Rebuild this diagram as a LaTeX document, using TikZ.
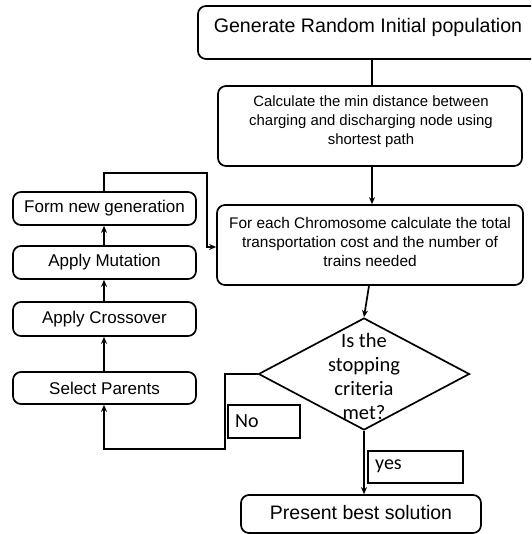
\documentclass[tikz,border=0pt]{standalone}
\usepackage{fontspec}
\setmainfont{Liberation Sans}
\newfontfamily\calfont{Carlito}
\usetikzlibrary{shapes.geometric,arrows.meta}
\begin{document}
\begin{tikzpicture}[x=1pt,y=-1pt,
  box/.style={draw,line width=1.7pt,rounded corners=8pt,inner sep=0pt},
  lbl/.style={draw,line width=1.7pt,inner sep=0pt},
  conn/.style={line width=1.7pt},
  arr/.style={conn,-{Stealth[length=7pt,width=6pt]}},
  txt/.style={align=center,inner sep=0pt},
  left/.style={box,minimum width=183,font=\fontsize{17}{20}\selectfont},
  ]
\useasboundingbox (0,0) rectangle (531,534);
\clip (0,0) rectangle (531,534);
% main column
\node[box,minimum width=340,minimum height=53] (gen) at (368,32.5) {};
\node[txt,font=\fontsize{19.6}{23}\selectfont] (gent) at (368,27) {Generate Random Initial population};
\node[box,minimum width=304,minimum height=80] (calc) at (370,126) {};
\node[txt,font=\fontsize{14.9}{19}\selectfont] (calct) at (371,122) {Calculate the min distance between\\charging and discharging node using\\shortest path};
\node[box,minimum width=306,minimum height=80] (each) at (370,245) {};
\node[txt,font=\fontsize{15.4}{19}\selectfont] (eacht) at (370,242) {For each Chromosome calculate the total\\transportation cost and the number of\\trains needed};
\node[draw,diamond,line width=1.7pt,minimum width=211,minimum height=112,inner sep=0pt] (dec) at (364,374) {};
\node[txt,font=\calfont\fontsize{20.5}{24}\selectfont] (dect) at (364,376) {Is the\\stopping\\criteria\\met?};
\node[box,minimum width=240,minimum height=38] (pres) at (361,514) {};
\node[txt,font=\fontsize{19.5}{22}\selectfont] (prest) at (361,513) {Present best solution};
% labels
\node[lbl,minimum width=72,minimum height=33,anchor=north west] (no) at (227,404) {};
\node[txt,font=\calfont\fontsize{20}{22}\selectfont,anchor=west] (not) at (235,421) {No};
\node[lbl,minimum width=95,minimum height=32,anchor=north west] (yes) at (367,450) {};
\node[txt,font=\calfont\fontsize{20}{22}\selectfont,anchor=west] (yest) at (375,466) {yes};
% left column
\node[left,minimum height=33] (form) at (104.5,208.5) {Form new generation};
\node[left,minimum height=33] (mut) at (104.5,262.5) {Apply Mutation};
\node[left,minimum height=34] (cross) at (104.5,319) {Apply Crossover};
\node[left,minimum height=32] (sel) at (104.5,388) {Select Parents};
% coordinates
\coordinate (c1) at (104,173);
\coordinate (c2) at (207,173);
\coordinate (c3) at (207,247);
\coordinate (n1) at (225,374);
\coordinate (n2) at (225,449);
\coordinate (n3) at (104,449);
% connectors
\draw[conn] (gen.south -| 372,0) -- (calc.north -| 372,0);
\draw[arr] (calc.south -| 372,0) -- (each.north -| 372,0);
\draw[arr] (each.south -| 369,0) -- (dec.north);
\draw[arr] (dec.south) -- (pres.north -| dec.south);
\draw[arr] (dec.west) -- (n1) -- (n2) -- (n3) -- (sel.south -| n3);
\draw[arr] (sel.north -| 104,0) -- (cross.south -| 104,0);
\draw[arr] (cross.north -| 104,0) -- (mut.south -| 104,0);
\draw[arr] (mut.north -| 104,0) -- (form.south -| 104,0);
\draw[arr] (form.north -| c1) -- (c1) -- (c2) -- (c3) -- (each.west |- c3);
\end{tikzpicture}
\end{document}
